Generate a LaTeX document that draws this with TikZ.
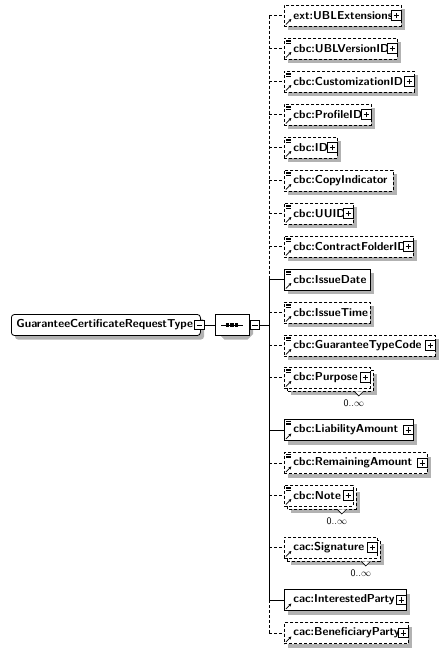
\documentclass[tikz,border=0pt]{standalone}
\usetikzlibrary{shapes.misc,arrows.meta}
\colorlet{shadowgray}{gray!60}
\newcommand*{\spinex}{269}
\newcommand*{\boxx}{284}
\newcommand*{\elemfont}{\sffamily\bfseries\fontsize{11.5}{13}\selectfont}

\begin{document}
\begin{tikzpicture}
[
	x=1pt, y=1pt, line width=0.8pt,
	dashed/.style={dash pattern=on 3pt off 2pt},
	box/.style={draw, fill=white, anchor=west, minimum height=21pt, inner xsep=9pt, inner ysep=0pt,
		align=left, font=\elemfont},
	opt/.style={box, dashed},
	mand/.style={box},
	wd/.style={minimum width=#1pt, text width=#1pt-18pt},
	simpleref/.style={path picture={
		\foreach \k in {2,3.5,5}
			\draw[solid, line width=0.5pt] ([xshift=2pt, yshift=-\k pt]path picture bounding box.north west) -- ++(4.5pt,0pt);
		\draw[solid, line width=0.8pt, -{Stealth[length=3pt, width=3pt]}]
			([xshift=1.5pt, yshift=1.5pt]path picture bounding box.south west) -- ++(5.5pt,5.5pt);}},
	refonly/.style={path picture={
		\draw[solid, line width=0.8pt, -{Stealth[length=3pt, width=3pt]}]
			([xshift=1.5pt, yshift=1.5pt]path picture bounding box.south west) -- ++(5.5pt,5.5pt);}},
	pm/.style={draw, fill=white, solid, minimum size=9.5pt, inner sep=0pt, line width=0.7pt},
	plus/.style={pm, path picture={
		\draw[line width=0.7pt] ([xshift=-2.8pt]path picture bounding box.center) -- ++(5.6pt,0pt);
		\draw[line width=0.7pt] ([yshift=-2.8pt]path picture bounding box.center) -- ++(0pt,5.6pt);}},
	minus/.style={pm, path picture={
		\draw[line width=0.7pt] ([xshift=-2.8pt]path picture bounding box.center) -- ++(5.6pt,0pt);}},
	rootbox/.style={draw, fill=white, rounded corners=3pt, anchor=west, minimum width=189pt,
		text width=179pt, minimum height=21pt, inner xsep=5pt, inner ysep=0pt, align=left, font=\elemfont},
	seqbox/.style={draw, fill=white, chamfered rectangle, chamfered rectangle xsep=5.5pt,
		chamfered rectangle ysep=5pt, minimum width=34pt, minimum height=21pt, inner sep=0pt},
	notch/.style={draw, fill=white, solid, line width=0.6pt},
	mult/.style={font=\sffamily\fontsize{10}{12}\selectfont, inner sep=0pt}
]

	\path[use as bounding box] (0,0) rectangle (445,-653);
	\coordinate (spine) at (\spinex,0);

	% shadows and stacked boxes
	\fill[shadowgray, rounded corners=3pt] (15,-339.5) rectangle (204,-318.5);
	\fill[shadowgray] (219,-334) -- ++(0,10) -- ++(5.5,5.5) -- ++(23,0) -- ++(5.5,-5.5)
		-- ++(0,-10) -- ++(-5.5,-5.5) -- ++(-23,0) -- cycle;
	\foreach \y/\w in {-15.5/117,-48.5/113,-81.5/130,-114.5/87,-147.5/53,-180.5/109,-213.5/69,
		-246.5/129,-279.5/86,-312.5/86,-345.5/151,-430/129,-463/143,-600/122,-633/124}
		\fill[shadowgray] ({\boxx+4},{\y-14.5}) rectangle ({\boxx+\w+4},{\y+6.5});
	\foreach \y/\w in {-377.5/86,-495.5/69,-547.5/93} {
		\fill[shadowgray] ({\boxx+7},{\y-17.5}) rectangle ({\boxx+\w+7},{\y+3.5});
		\draw[dashed, fill=white] ({\boxx+3},{\y-13.5}) rectangle ({\boxx+\w+3},{\y+7.5});
	}

	% type and sequence
	\node[rootbox] (root) at (11,-325) {GuaranteeCertificateRequestType};
	\node[minus] (rootmin) at ([xshift=-1.5pt]root.east) {};
	\node[seqbox] (seq) at (232,-325) {};
	\node[minus] (seqmin) at ([xshift=5.5pt]seq.east) {};
	\draw[line width=0.8pt] ([xshift=-11pt]seq.center) -- ([xshift=11pt]seq.center);
	\foreach \dx in {-4.5,0,4.5}
		\fill ([xshift=\dx pt-1.6pt, yshift=-1.6pt]seq.center) rectangle ([xshift=\dx pt+1.6pt, yshift=1.6pt]seq.center);

	% children
	\node[opt, refonly, wd=117] (ext) at (\boxx,-15.5) {ext:UBLExtensions};
	\node[opt, simpleref, wd=113] (ver) at (\boxx,-48.5) {cbc:UBLVersionID};
	\node[opt, simpleref, wd=130] (cust) at (\boxx,-81.5) {cbc:CustomizationID};
	\node[opt, simpleref, wd=87] (prof) at (\boxx,-114.5) {cbc:ProfileID};
	\node[opt, simpleref, wd=53] (id) at (\boxx,-147.5) {cbc:ID};
	\node[opt, simpleref, wd=109] (copy) at (\boxx,-180.5) {cbc:CopyIndicator};
	\node[opt, simpleref, wd=69] (uuid) at (\boxx,-213.5) {cbc:UUID};
	\node[opt, simpleref, wd=129] (cfid) at (\boxx,-246.5) {cbc:ContractFolderID};
	\node[mand, simpleref, wd=86] (idate) at (\boxx,-279.5) {cbc:IssueDate};
	\node[opt, simpleref, wd=86] (itime) at (\boxx,-312.5) {cbc:IssueTime};
	\node[opt, simpleref, wd=151] (gtc) at (\boxx,-345.5) {cbc:GuaranteeTypeCode};
	\node[opt, simpleref, wd=86] (purp) at (\boxx,-377.5) {cbc:Purpose};
	\node[mand, simpleref, wd=129] (liab) at (\boxx,-430) {cbc:LiabilityAmount};
	\node[opt, simpleref, wd=143] (rem) at (\boxx,-463) {cbc:RemainingAmount};
	\node[opt, simpleref, wd=69] (note) at (\boxx,-495.5) {cbc:Note};
	\node[opt, refonly, wd=93] (sig) at (\boxx,-547.5) {cac:Signature};
	\node[mand, refonly, wd=122] (int) at (\boxx,-600) {cac:InterestedParty};
	\node[opt, refonly, wd=124] (ben) at (\boxx,-633) {cac:BeneficiaryParty};

	\foreach \n in {ext,ver,cust,prof,id,uuid,cfid,gtc,purp,liab,rem,note,sig,int,ben}
		\node[plus] (\n-p) at ([xshift=-5.5pt]\n.east) {};

	% occurrences
	\foreach \n in {purp,note,sig} {
		\draw[notch] ([xshift=-16.5pt, yshift=-3pt]\n.south east) -- ++(4.5pt,-4.5pt) -- ++(4.5pt,4.5pt);
		\node[mult] (\n-m) at ([xshift=-17pt, yshift=-14.5pt]\n.south east) {0..$\infty$};
	}

	% connectors
	\draw (rootmin) -- (seq);
	\draw (seqmin) -- (seqmin -| spine);
	\draw[dashed] (ext -| spine) -- (idate -| spine);
	\draw (idate -| spine) -- (int -| spine);
	\draw[dashed] (int -| spine) -- (ben -| spine);
	\foreach \n in {ext,ver,cust,prof,id,copy,uuid,cfid,itime,gtc,purp,rem,note,sig,ben}
		\draw[dashed] (\n -| spine) -- (\n.west);
	\foreach \n in {idate,liab,int}
		\draw (\n -| spine) -- (\n.west);

\end{tikzpicture}
\end{document}
